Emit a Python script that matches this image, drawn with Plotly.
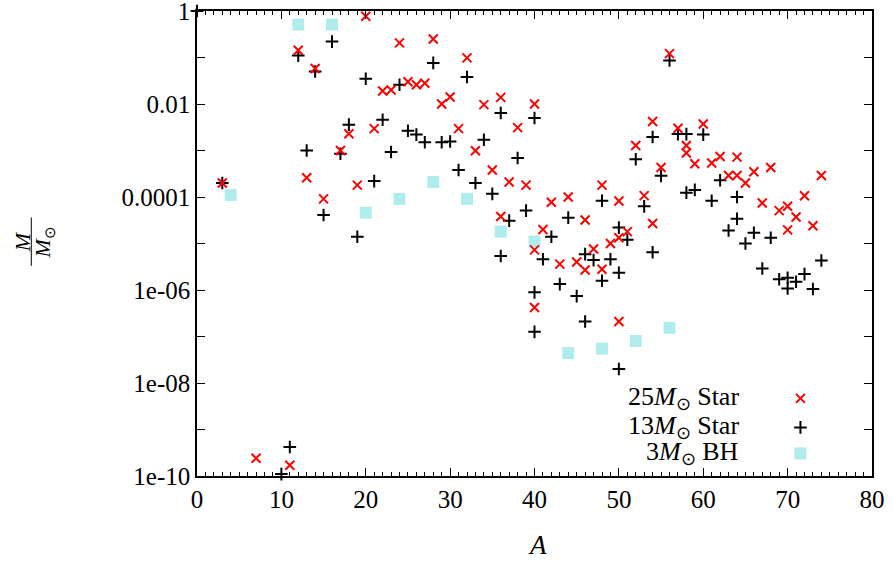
import plotly.graph_objects as go

# Mass number A and yield (in solar masses) for each model
a_25 = [3, 7, 11, 12, 13, 14, 15, 17, 18, 19, 20, 21, 22, 23, 24, 25, 26, 27, 28, 29,
        30, 31, 32, 33, 34, 35, 36, 36, 37, 38, 39, 40, 40, 40, 41, 42, 43, 44, 45, 46,
        46, 47, 48, 48, 49, 50, 50, 50, 51, 52, 53, 54, 54, 55, 56, 57, 58, 58, 59, 60,
        61, 62, 63, 64, 64, 65, 66, 67, 68, 69, 70, 70, 71, 72, 73, 74]
m_25 = [2.0e-4, 2.4e-10, 1.7e-10, 0.143, 2.6e-4, 0.058, 9.1e-5, 1.0e-3, 2.3e-3, 1.8e-4,
        0.77, 2.95e-3, 0.019, 0.020, 0.206, 0.030, 0.026, 0.028, 0.25, 0.010,
        0.0142, 2.95e-3, 0.098, 9.9e-4, 9.7e-3, 3.8e-4, 0.0139, 3.8e-5, 2.1e-4, 3.1e-3,
        1.8e-4, 0.010, 7.3e-6, 4.2e-7, 2.0e-5, 7.7e-5, 3.6e-6, 1.0e-4, 4.0e-6, 3.2e-5,
        2.7e-6, 7.6e-6, 1.8e-4, 2.8e-6, 1.0e-5, 8.2e-5, 1.33e-5, 2.1e-7, 1.8e-5, 1.28e-3,
        1.07e-4, 4.2e-3, 2.7e-5, 4.3e-4, 0.121, 3.0e-3, 1.28e-3, 8.8e-4, 5.2e-4, 3.7e-3,
        5.4e-4, 7.4e-4, 2.9e-4, 7.2e-4, 2.9e-4, 2.0e-4, 3.5e-4, 7.4e-5, 4.3e-4, 5.1e-5,
        6.3e-5, 1.96e-5, 3.7e-5, 1.06e-4, 2.4e-5, 2.9e-4]

a_13 = [0, 3, 10, 11, 12, 13, 14, 15, 16, 17, 18, 19, 20, 21, 22, 23, 24, 25, 26, 27,
        28, 29, 30, 31, 32, 33, 34, 35, 36, 36, 37, 38, 39, 40, 40, 40, 41, 42, 43, 44,
        45, 46, 46, 47, 48, 48, 49, 50, 50, 50, 51, 52, 53, 54, 54, 55, 56, 57, 58, 58,
        59, 60, 61, 62, 63, 64, 64, 65, 66, 67, 68, 69, 70, 70, 71, 72, 73, 74]
m_13 = [1.0, 2.0e-4, 1.1e-10, 4.2e-10, 0.11, 1.0e-3, 0.05, 4.1e-5, 0.22, 8.5e-4,
        3.6e-3, 1.4e-5, 0.035, 2.2e-4, 4.6e-3, 9.3e-4, 0.026, 2.66e-3, 2.2e-3, 1.5e-3,
        0.0766, 1.5e-3, 1.56e-3, 3.8e-4, 0.038, 2.0e-4, 1.7e-3, 1.17e-4, 6.4e-3, 5.4e-6,
        3.1e-5, 6.9e-4, 5.1e-5, 5.0e-3, 8.9e-7, 1.26e-7, 4.6e-6, 1.4e-5, 1.34e-6, 3.6e-5,
        7.4e-7, 5.9e-6, 2.1e-7, 4.4e-6, 8.3e-5, 1.58e-6, 4.6e-6, 2.2e-5, 2.35e-6, 2.0e-8,
        1.2e-5, 6.5e-4, 6.3e-5, 1.95e-3, 6.5e-6, 2.85e-4, 0.086, 2.25e-3, 2.25e-3, 1.24e-4,
        1.42e-4, 2.2e-3, 8.3e-5, 2.3e-4, 1.9e-5, 1.0e-4, 3.4e-5, 1.0e-5, 1.7e-5, 2.9e-6,
        1.33e-5, 1.7e-6, 1.83e-6, 1.08e-6, 1.5e-6, 2.2e-6, 1.05e-6, 4.3e-6]

a_bh = [4, 12, 16, 20, 24, 28, 32, 36, 40, 44, 48, 52, 56]
m_bh = [1.1e-4, 0.51, 0.51, 4.6e-5, 9.1e-5, 2.1e-4, 9.1e-5, 1.8e-5, 1.1e-5,
        4.4e-8, 5.5e-8, 8.0e-8, 1.54e-7]

series_names = ["25<i>M</i><sub>⊙</sub> Star", "13<i>M</i><sub>⊙</sub> Star",
                "3<i>M</i><sub>⊙</sub> BH"]

y_tick_vals = [1e-10, 1e-9, 1e-8, 1e-7, 1e-6, 1e-5, 1e-4, 1e-3, 1e-2, 1e-1, 1]
y_tick_text = ["1e-10", "", "1e-08", "", "1e-06", "", "0.0001", "", "0.01", "", "1"]
x_tick_vals = [0, 10, 20, 30, 40, 50, 60, 70, 80]

FONT = "Liberation Serif"
RED = "#ff0000"
BLACK = "#000000"
CYAN = "#b0ecec"

style_25 = dict(symbol="x-thin", size=9, color=RED, line=dict(color=RED, width=2))
style_13 = dict(symbol="cross-thin", size=9, color=BLACK, line=dict(color=BLACK, width=2))
style_bh = dict(symbol="square", size=12, color=CYAN, line=dict(width=0))

fig = go.Figure()

fig.add_trace(go.Scatter(x=a_bh, y=m_bh, mode="markers", marker=style_bh,
                         cliponaxis=False, showlegend=False))
fig.add_trace(go.Scatter(x=a_13, y=m_13, mode="markers", marker=style_13,
                         cliponaxis=False, showlegend=False))
fig.add_trace(go.Scatter(x=a_25, y=m_25, mode="markers", marker=style_25,
                         cliponaxis=False, showlegend=False))

# Legend keys drawn on an overlay axis spanning the plot area (0..1)
key_x = 0.894
key_rows = [0.167, 0.1045, 0.0485]
for style, yk in zip([style_25, style_13, style_bh], key_rows):
    fig.add_trace(go.Scatter(x=[key_x], y=[yk], mode="markers", marker=style,
                             xaxis="x2", yaxis="y2", showlegend=False,
                             cliponaxis=False, hoverinfo="skip"))

for name, yk in zip(series_names, key_rows):
    fig.add_annotation(text=name, xref="x2", yref="y2", x=0.806, y=yk,
                       xanchor="right", yanchor="middle", showarrow=False,
                       font=dict(family=FONT, size=26, color="black"))

# Rotated fraction M / M_sun as the y-axis title
fig.add_annotation(text="<i>M</i>", xref="paper", yref="paper",
                   x=-0.259, y=0.503, xanchor="center", yanchor="middle",
                   textangle=-90, showarrow=False,
                   font=dict(family=FONT, size=22, color="black"))
fig.add_annotation(text="<i>M</i><sub>⊙</sub>", xref="paper", yref="paper",
                   x=-0.226, y=0.503, xanchor="center", yanchor="middle",
                   textangle=-90, showarrow=False,
                   font=dict(family=FONT, size=22, color="black"))
fig.add_shape(type="line", xref="paper", yref="paper",
              x0=-0.2455, x1=-0.2455, y0=0.452, y1=0.556,
              line=dict(color="black", width=1))

# x-axis title
fig.add_annotation(text="<i>A</i>", xref="paper", yref="paper",
                   x=0.505, y=-0.148, xanchor="center", yanchor="middle",
                   showarrow=False, font=dict(family=FONT, size=27, color="black"))

axis_common = dict(
    showline=True, linecolor="black", linewidth=1.5, mirror="allticks",
    ticks="inside", tickcolor="black", tickwidth=1.2, ticklen=8,
    showgrid=False, zeroline=False, automargin=False,
    ticklabeloverflow="allow",
    tickfont=dict(family=FONT, size=25, color="black"),
)

fig.update_layout(
    width=893, height=562,
    margin=dict(l=197, r=21, t=11, b=86),
    paper_bgcolor="white", plot_bgcolor="white",
    xaxis=dict(range=[0, 80], tickmode="array", tickvals=x_tick_vals,
               minor=dict(dtick=1, ticks="inside", ticklen=4, tickcolor="black",
                          tickwidth=1),
               **axis_common),
    yaxis=dict(type="log", range=[-10, 0], tickmode="array",
               tickvals=y_tick_vals, ticktext=y_tick_text, **axis_common),
    xaxis2=dict(overlaying="x", range=[0, 1], visible=False, fixedrange=True),
    yaxis2=dict(overlaying="y", range=[0, 1], visible=False, fixedrange=True),
    showlegend=False,
)

fig.write_html("out.html")
